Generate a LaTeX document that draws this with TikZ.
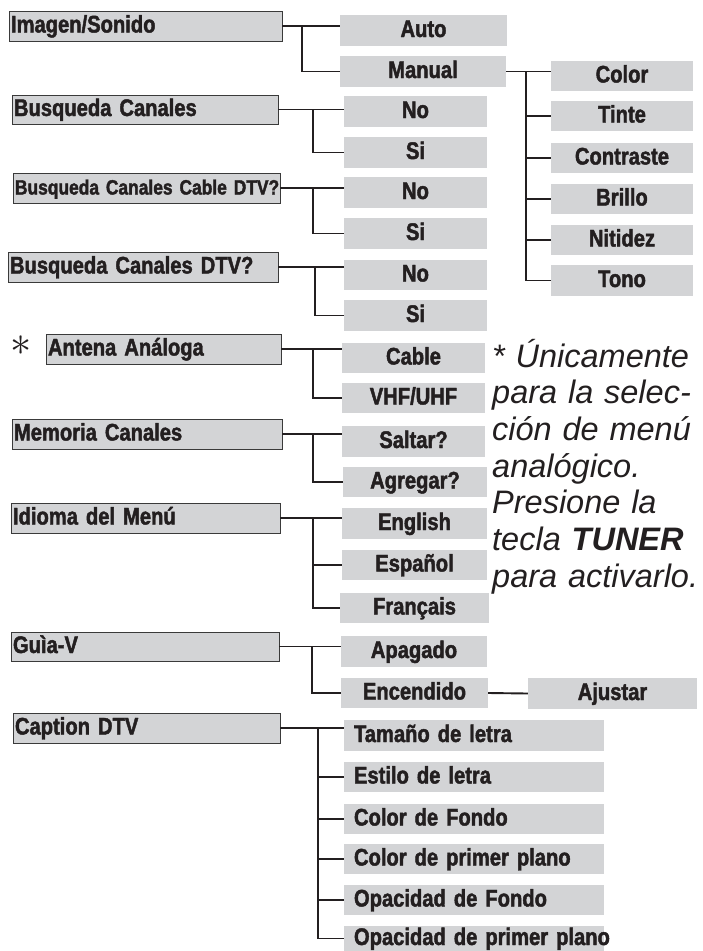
\documentclass[tikz,border=0pt]{standalone}
\usepackage{fontspec}
\usetikzlibrary{calc}
\newfontfamily\boxfont{Liberation Sans}[FakeStretch=0.84,BoldFeatures={FakeBold=1.8}]
\newfontfamily\notefont{Liberation Sans}
\definecolor{Ink}{HTML}{231F20}
\definecolor{Panel}{HTML}{D3D4D6}
\definecolor{Edge}{HTML}{3A3A3A}
\newcommand{\MenuItem}[7]{%
  \pgfmathsetmacro{\itemw}{#5-#3}%
  \pgfmathsetmacro{\itemh}{#6-#4}%
  \node[#1,minimum width=\itemw pt,minimum height=\itemh pt] (#2) at ({(#3+#5)/2},{(#4+#6)/2}) {\mbox{#7}};%
}
\tikzset{
  panel/.style={fill=Panel,inner ysep=0pt,text=Ink,text height=17pt,text depth=4pt,
    font=\boxfont\bfseries\fontsize{24}{26}\selectfont},
  mainbox/.style={panel,draw=Edge,line width=0.7pt,inner xsep=2pt,text width=\itemw pt-4pt,align=left},
  subbox/.style={panel,inner xsep=0pt,align=center},
  capbox/.style={panel,inner xsep=10pt,text width=\itemw pt-20pt,align=left},
  link/.style={draw=Ink,line width=1.9pt},
  note/.style={text=Ink,inner sep=0pt,text width=212pt,align=left,
    font=\notefont\itshape\fontsize{32.5}{36.7}\selectfont}
}

\begin{document}
\begin{tikzpicture}[x=1pt,y=-1pt]
\useasboundingbox (0,0) rectangle (702,951);
% main menu
\MenuItem{mainbox}{imagen}{9}{11}{282}{41}{Imagen/Sonido}
\MenuItem{mainbox}{busq}{12}{95}{278}{124}{Busqueda Canales}
\MenuItem{mainbox,font=\boxfont\bfseries\fontsize{20.7}{24}\selectfont}{cable}{13}{173}{280}{203}{Busqueda Canales Cable DTV?}
\MenuItem{mainbox}{dtv}{8}{252}{278}{282}{Busqueda Canales DTV?}
\MenuItem{mainbox}{antena}{46}{334}{281}{364}{Antena Análoga}
\MenuItem{mainbox}{memoria}{12}{419}{282}{449}{Memoria Canales}
\MenuItem{mainbox}{idioma}{11}{503}{280}{533}{Idioma del Menú}
\MenuItem{mainbox}{guia}{11}{632}{279}{661}{Guìa-V}
\MenuItem{mainbox}{caption}{13}{713}{280}{743}{Caption DTV}
\node[text=Ink,inner sep=0pt,scale=1.7,font=\fontsize{24}{24}\selectfont] (star) at (21,346) {$\ast$};
% options
\MenuItem{subbox}{auto}{340}{15}{507}{46}{Auto}
\MenuItem{subbox}{manual}{340}{56}{506}{87}{Manual}
\MenuItem{subbox}{busqno}{344}{96}{487}{127}{No}
\MenuItem{subbox}{busqsi}{344}{137}{487}{168}{Si}
\MenuItem{subbox}{cableno}{344}{177}{487}{208}{No}
\MenuItem{subbox}{cablesi}{344}{218}{487}{249}{Si}
\MenuItem{subbox}{dtvno}{344}{260}{487}{290}{No}
\MenuItem{subbox}{dtvsi}{344}{300}{487}{331}{Si}
\MenuItem{subbox}{antcable}{342}{343}{485}{373}{Cable}
\MenuItem{subbox}{vhf}{342}{383}{485}{413}{VHF/UHF}
\MenuItem{subbox}{saltar}{342}{426}{485}{457}{Saltar?}
\MenuItem{subbox}{agregar}{343}{467}{487}{497}{Agregar?}
\MenuItem{subbox}{english}{342}{508}{487}{539}{English}
\MenuItem{subbox}{espanol}{342}{550}{487}{580}{Español}
\MenuItem{subbox}{francais}{340}{593}{489}{623}{Français}
\MenuItem{subbox}{apagado}{341}{636}{487}{667}{Apagado}
\MenuItem{subbox}{encendido}{341}{678}{488}{708}{Encendido}
\MenuItem{subbox}{ajustar}{528}{678}{697}{709}{Ajustar}
\MenuItem{subbox}{color}{551}{61}{693}{91}{Color}
\MenuItem{subbox}{tinte}{551}{101}{693}{131}{Tinte}
\MenuItem{subbox}{contraste}{551}{143}{693}{173}{Contraste}
\MenuItem{subbox}{brillo}{551}{184}{693}{214}{Brillo}
\MenuItem{subbox}{nitidez}{551}{225}{693}{255}{Nitidez}
\MenuItem{subbox}{tono}{551}{265}{693}{296}{Tono}
\MenuItem{capbox}{tamano}{344}{720}{604}{751}{Tamaño de letra}
\MenuItem{capbox}{estilo}{344}{762}{604}{792}{Estilo de letra}
\MenuItem{capbox}{colfondo}{344}{804}{604}{834}{Color de Fondo}
\MenuItem{capbox}{colplano}{344}{844}{604}{874}{Color de primer plano}
\MenuItem{capbox}{opfondo}{344}{885}{604}{915}{Opacidad de Fondo}
\MenuItem{capbox}{opplano}{344}{926}{604}{951}{Opacidad de primer plano}
% connectors
\foreach \p/\off/\a/\others in {imagen/20/auto/{manual},busq/35/busqno/{busqsi},
    cable/33/cableno/{cablesi},dtv/37/dtvno/{dtvsi},antena/32/antcable/{vhf},
    memoria/31/saltar/{agregar},idioma/33/english/{espanol,francais},
    guia/33/apagado/{encendido},manual/20/color/{tinte,contraste,brillo,nitidez,tono},
    caption/38/tamano/{estilo,colfondo,colplano,opfondo,opplano}} {
  \draw[link] (\p.east) -- (\p.east -| \a.west);
  \path (\p.east) ++(\off,0) coordinate (fork);
  \foreach \c in \others
    \draw[link] (fork) |- (\c.west);
}
\draw[link] (encendido.east) -- (ajustar.west);
% note
\node[note,anchor=base west] (nota) at (492,367) {* Únicamente\\para la selec-\\ción de menú\\analógico.\\Presione la\\tecla \textbf{TUNER}\\para activarlo.};
\end{tikzpicture}
\end{document}
